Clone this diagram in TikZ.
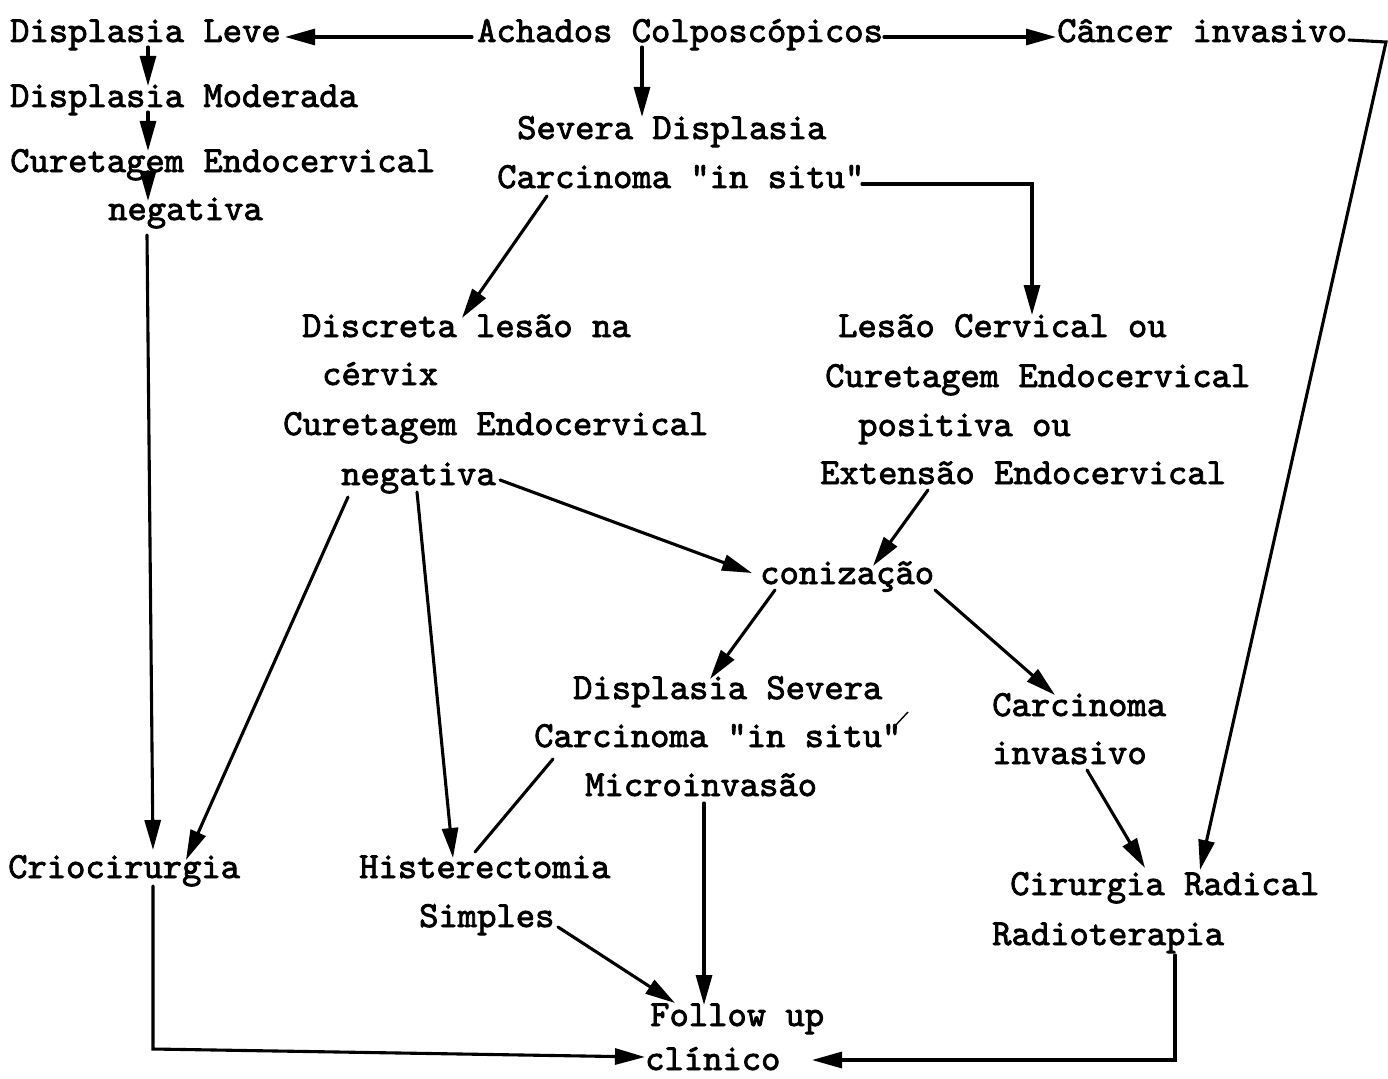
\documentclass[tikz,border=0pt]{standalone}
\usepackage{fontspec}
\newfontfamily\tw{lmmono10-regular.otf}[FakeBold=2.2]
\usetikzlibrary{calc,arrows.meta}
\begin{document}
\begin{tikzpicture}[x=1pt,y=-1pt,
  txt/.style={anchor=base west,inner sep=0pt,font=\tw\fontsize{36.8}{42}\selectfont},
  ln/.style={line width=3.1pt,line cap=round},
  arr/.style={ln,-{Triangle[length=30pt,width=16pt]}}]
\useasboundingbox (0,0) rectangle (1388,1078);
% text nodes
\node[txt] (leve)  at (10,42)   {Displasia Leve};
\node[txt] (ach)   at (477,42)  {Achados Colposcópicos};
\node[txt] (canc)  at (1057,42) {Câncer invasivo};
\node[txt] (mod)   at (10,107)  {Displasia Moderada};
\node[txt] (sev)   at (517,139) {Severa Displasia};
\node[txt] (cur1)  at (10,172)  {Curetagem Endocervical};
\node[txt] (cis1)  at (497,188) {Carcinoma "in situ"};
\node[txt] (neg1)  at (108,220) {negativa};
\node[txt] (disc)  at (302,337) {Discreta lesão na};
\node[txt] (cerv)  at (322,385) {cérvix};
\node[txt] (cur2)  at (283,435) {Curetagem Endocervical};
\node[txt] (neg2)  at (341,485) {negativa};
\node[txt] (les)   at (838,337) {Lesão Cervical ou};
\node[txt] (cur3)  at (825,387) {Curetagem Endocervical};
\node[txt] (pos)   at (858,436) {positiva ou};
\node[txt] (ext)   at (820,484) {Extensão Endocervical};
\node[txt] (con)   at (760,584) {conização};
\node[txt] (dsev)  at (573,699) {Displasia Severa};
\node[txt] (cis2)  at (534,747) {Carcinoma "in situ"};
\node[txt] (micro) at (585,796) {Microinvasão};
\node[txt] (carc)  at (992,716) {Carcinoma};
\node[txt] (inv)   at (992,764) {invasivo};
\node[txt] (crio)  at (8,878)   {Criocirurgia};
\node[txt] (hist)  at (359,878) {Histerectomia};
\node[txt] (simp)  at (419,927) {Simples};
\node[txt] (cirr)  at (1010,895) {Cirurgia Radical};
\node[txt] (radio) at (992,945) {Radioterapia};
\node[txt] (foll)  at (650,1026) {Follow up};
\node[txt] (clin)  at (645,1070) {clínico};
% connectors
\draw[arr] ($(ach.base west)+(-5,-5)$) -- ($(leve.base west)+(275,-5)$);
\draw[arr] ($(ach.base west)+(407,-5)$) -- ($(canc.base west)+(-1,-5)$);
\draw[arr] ($(ach.base west)+(165,5)$) -- ($(sev.base west)+(125,-22)$);
\draw[arr] ($(leve.base west)+(138,5)$) -- ($(mod.base west)+(138,-21)$);
\draw[arr] ($(mod.base west)+(138,5)$) -- ($(cur1.base west)+(138,-21)$);
\draw[arr] ($(cur1.base west)+(138,5)$) -- ($(neg1.base west)+(40,-19)$);
\draw[arr] ($(neg1.base west)+(39,15)$) -- ($(crio.base west)+(145,-28)$);
\draw[arr] ($(cis1.base west)+(50,8)$) -- ($(disc.base west)+(160,-19)$);
\draw[arr] ($(cis1.base west)+(365,-4)$) -| ($(les.base west)+(194,-22)$);
\draw[arr] ($(neg2.base west)+(159,-5)$) -- ($(con.base west)+(-8,-11)$);
\draw[arr] ($(neg2.base west)+(7,12)$) -- ($(crio.base west)+(178,-18)$);
\draw[arr] ($(neg2.base west)+(76,7)$) -- ($(hist.base west)+(94,-20)$);
\draw[arr] ($(ext.base west)+(108,6)$) -- ($(con.base west)+(113,-18)$);
\draw[arr] ($(con.base west)+(15,6)$) -- ($(dsev.base west)+(137,-20)$);
\draw[arr] ($(con.base west)+(175,6)$) -- ($(carc.base west)+(63,-21)$);
\draw[ln] ($(cis2.base west)+(19,12)$) -- ($(hist.base west)+(116,-26)$);
\draw[line width=1.4pt] ($(cis2.base west)+(374,-35)$) -- ($(cis2.base west)+(360,-20)$);
\draw[arr] ($(micro.base west)+(119,7)$) -- ($(foll.base west)+(54,-21)$);
\draw[arr] ($(simp.base west)+(139,0)$) -- ($(foll.base west)+(25,-23)$);
\draw[arr] ($(crio.base west)+(145,8)$) -- ($(crio.base west)+(145,171)$) -- ($(clin.base west)+(0,-13)$);
\draw[arr] ($(radio.base west)+(183,10)$) -- ($(radio.base west)+(183,115)$) -- ($(clin.base west)+(167,-10)$);
\draw[arr] ($(inv.base west)+(95,6)$) -- ($(cirr.base west)+(135,-27)$);
\draw[arr] ($(canc.base west)+(292,-2)$) -- ($(canc.base west)+(329,0)$) -- ($(cirr.base west)+(190,-25)$);
\end{tikzpicture}
\end{document}
